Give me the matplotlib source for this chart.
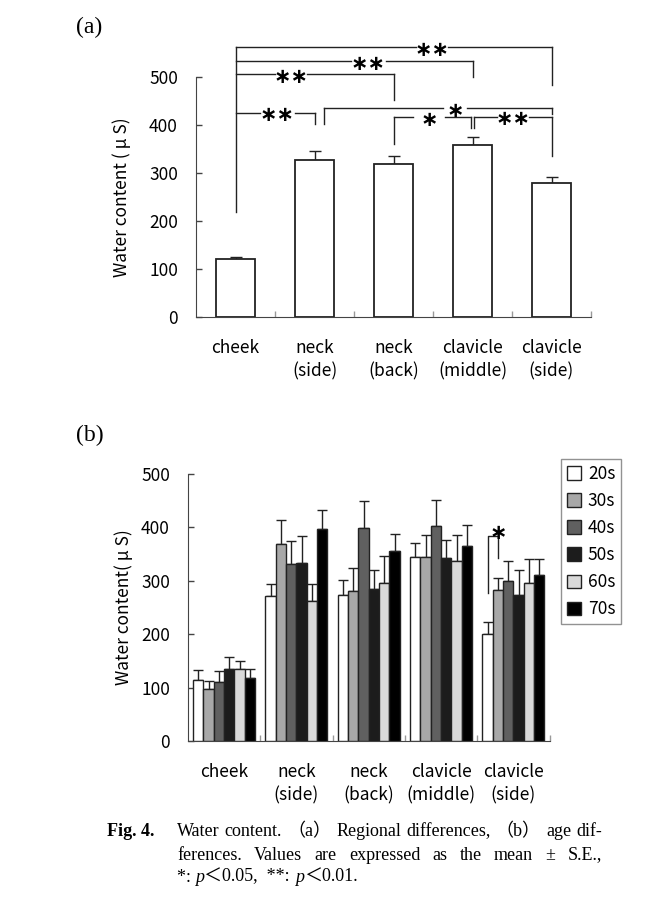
import matplotlib
matplotlib.use("Agg")
import matplotlib.pyplot as plt
import numpy as np
from matplotlib.offsetbox import TextArea, HPacker, AnnotationBbox

plt.rcParams['font.family'] = ['Noto Sans CJK JP', 'DejaVu Sans']

# ---- data ----
regions = ["cheek", "neck\n(side)", "neck\n(back)", "clavicle\n(middle)", "clavicle\n(side)"]

# (a) regional means and S.E.
region_mean = [120, 328, 318, 359, 279]
region_se = [5, 17, 17, 16, 13]

# (b) age groups
ages = ["20s", "30s", "40s", "50s", "60s", "70s"]
age_colors = ["white", "#a8a8a8", "#606060", "#1c1c1c", "#d9d9d9", "black"]
age_mean = {
    "20s": [115, 271, 273, 345, 200],
    "30s": [97, 369, 281, 345, 283],
    "40s": [110, 331, 399, 402, 299],
    "50s": [135, 333, 284, 343, 274],
    "60s": [135, 263, 296, 338, 295],
    "70s": [118, 397, 356, 366, 310],
}
age_se = {
    "20s": [18, 23, 28, 26, 22],
    "30s": [16, 45, 43, 41, 23],
    "40s": [21, 43, 51, 49, 39],
    "50s": [23, 50, 36, 33, 46],
    "60s": [15, 31, 51, 48, 46],
    "70s": [17, 35, 32, 38, 31],
}

# significance brackets for (a): x_left, x_right, y, left_bottom, right_bottom, label, label_x, half_gap
brackets_a = [
    (0, 4, 562, 219, 483, "∗∗", 2.49, 0.20),
    (0, 3, 533, 533, 500, "∗∗", 1.68, 0.22),
    (0, 2, 506, 506, 452, "∗∗", 0.70, 0.20),
    (0, 1, 426, 426, 402, "∗∗", 0.53, 0.22),
    (1.12, 4, 435, 402, 423, "∗", 2.78, 0.15),
    (2, 2.98, 416, 360, 394, "∗", 2.45, 0.20),
    (3.02, 4, 417, 394, 335, "∗∗", 3.51, 0.20),
]

caption_lines = ["Water content. （a） Regional differences, （b） age dif-",
                 "ferences. Values are expressed as the mean ± S.E.,"]

EDGE = "#222222"
TICK_FS = 12.5
STAR = dict(family='DejaVu Sans', fontweight='bold', fontsize=15)


def style_axes(ax):
    ax.spines['top'].set_visible(False)
    ax.spines['right'].set_visible(False)
    ax.spines['left'].set_color("#444444")
    ax.spines['bottom'].set_color("#444444")
    ax.set_xlim(-0.5, 4.5)
    ax.set_ylim(0, 500)
    ax.set_yticks(np.arange(0, 501, 100))
    ax.tick_params(axis='y', direction='in', length=4.5, width=1, color="#444444",
                   pad=13, labelsize=TICK_FS)
    ax.set_xticks(range(len(regions)))
    ax.set_xticklabels(regions, fontsize=TICK_FS, linespacing=1.35)
    ax.tick_params(axis='x', which='major', length=0, pad=16)
    ax.set_xticks(np.arange(0.5, 4.6, 1.0), minor=True)
    ax.tick_params(axis='x', which='minor', direction='in', length=4.5, width=1, color="#999999")


def draw_bracket(ax, xl, xr, y, yl, yr, label, tx, g):
    kw = dict(color=EDGE, lw=1, clip_on=False)
    ax.plot([xl, xl], [yl, y], **kw)
    ax.plot([xl, tx - g], [y, y], **kw)
    ax.plot([tx + g, xr], [y, y], **kw)
    ax.plot([xr, xr], [y, yr], **kw)
    ax.text(tx, y - 5, label, ha='center', va='center', clip_on=False, **STAR)


def justified(fig, text, x0, x1, y, **kw):
    # place words so that the line spans x0..x1 (figure pixels)
    words = text.split()
    r = fig.canvas.get_renderer()
    arts = [fig.text(0, y, wd, va='center', **kw) for wd in words]
    widths = [a.get_window_extent(r).width for a in arts]
    gap = (x1 - x0 - sum(widths)) / (len(words) - 1)
    pos = x0
    for a, wdt in zip(arts, widths):
        a.set_x(pos / fig.bbox.width)
        pos += wdt + gap


fig = plt.figure(figsize=(6.49, 9.10), dpi=100)

# ---- (a) ----
ax_a = fig.add_axes([196 / 649, (910 - 317) / 910, 395 / 649, 240 / 910])
x = np.arange(len(regions))
ax_a.bar(x, region_mean, width=0.5, color="white", edgecolor=EDGE, linewidth=1.3, zorder=3)
ax_a.errorbar(x, region_mean, yerr=[np.zeros(len(x)), region_se], fmt='none',
              ecolor=EDGE, elinewidth=1, capsize=4, capthick=1, zorder=2)
style_axes(ax_a)
ax_a.set_ylabel("Water content ( μ S)", fontsize=12.5, labelpad=13)
for b in brackets_a:
    draw_bracket(ax_a, *b)

# ---- (b) ----
ax_b = fig.add_axes([188 / 649, (910 - 741) / 910, 361.5 / 649, 267 / 910])
w = 1 / 7
for i, age in enumerate(ages):
    xs = x + (i - 2.5) * w
    ax_b.bar(xs, age_mean[age], width=w, color=age_colors[i], edgecolor=EDGE,
             linewidth=1, label=age, zorder=3)
    ax_b.errorbar(xs, age_mean[age], yerr=[np.zeros(len(x)), age_se[age]], fmt='none',
                  ecolor=EDGE, elinewidth=1, capsize=3.6, capthick=1, zorder=2)
style_axes(ax_b)
ax_b.set_ylabel("Water content( μ S)", fontsize=12.5, labelpad=6)

# 20s vs 30s at clavicle (side)
bl, br = 4 - 2.5 * w, 4 - 1.5 * w
ax_b.plot([bl, bl, br, br], [277, 384, 384, 342], color=EDGE, lw=1, zorder=4)
ax_b.text(br, 390, "∗", ha='center', va='center', zorder=5, **STAR)

leg = ax_b.legend(loc='upper left', bbox_to_anchor=(561 / 649, 1 - 459 / 910),
                  bbox_transform=fig.transFigure, borderaxespad=0, frameon=True,
                  fancybox=False, edgecolor="#777777", fontsize=TICK_FS,
                  handlelength=0.8, handleheight=0.8, handletextpad=0.4,
                  labelspacing=0.52, borderpad=0.35)
leg.get_frame().set_linewidth(1)

# ---- panel labels ----
serif = ['Liberation Serif', 'Noto Sans CJK JP']
fig.text(76 / 649, 1 - 27 / 910, "(a)", family=serif, fontsize=17, va='center')
fig.text(76 / 649, 1 - 435 / 910, "(b)", family=serif, fontsize=17, va='center')

# ---- caption ----
cap_fs = 13
fig.text(107 / 649, 1 - 832 / 910, "Fig. 4.", family=serif, fontsize=cap_fs,
         fontweight='bold', va='center')
justified(fig, caption_lines[0], 177, 602, 1 - 832 / 910, family=serif, fontsize=cap_fs)
justified(fig, caption_lines[1], 177, 602, 1 - 855 / 910, family=serif, fontsize=cap_fs)

parts = [("*: ", 'normal'), ("p", 'italic'), ("＜0.05,  **: ", 'normal'),
         ("p", 'italic'), ("＜0.01.", 'normal')]
boxes = [TextArea(s, textprops=dict(family=serif, fontsize=cap_fs, style=st))
         for s, st in parts]
pack = HPacker(children=boxes, pad=0, sep=0, align='baseline')
ab = AnnotationBbox(pack, (177 / 649, 1 - 877 / 910), xycoords='figure fraction',
                    box_alignment=(0, 0.5), frameon=False, pad=0)
fig.add_artist(ab)

fig.savefig("out.png", dpi=100)
